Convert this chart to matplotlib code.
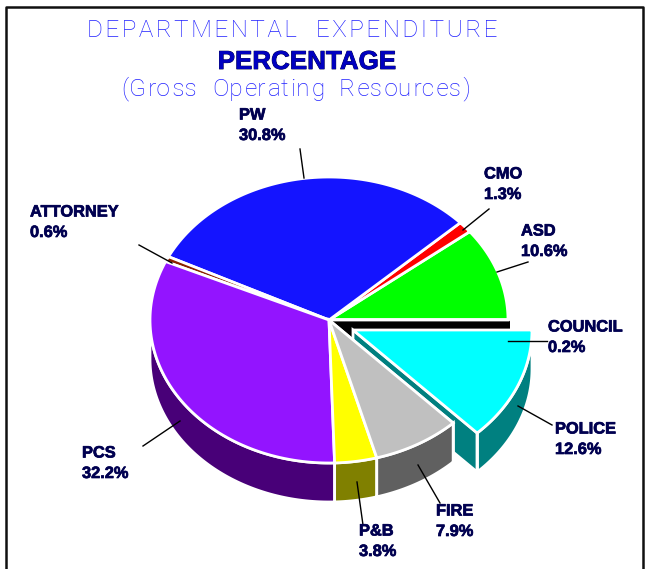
import numpy as np
import matplotlib
matplotlib.use('Agg')
import matplotlib.pyplot as plt
import matplotlib.patheffects as pe

# counter clockwise from the east, starting with the sliver
departments = ['COUNCIL', 'ASD', 'CMO', 'PW', 'ATTORNEY', 'PCS', 'P&B', 'FIRE', 'POLICE']
percents = [0.2, 10.6, 1.3, 30.8, 0.6, 32.2, 3.8, 7.9, 12.6]
top_colors = ['#000000', '#00FF00', '#FF0000', '#1414FF', '#8B2000', '#9314FF', '#FFFF00', '#C0C0C0', '#00FFFF']
side_colors = ['#000000', '#008000', '#800000', '#0A0A80', '#451000', '#480078', '#808000', '#606060', '#008080']

# pixel layout of the tilted pie
cx, cy = 329, 320
rx, ry = 179, 143
depth = 39
offsets = {'COUNCIL': (2, 0), 'POLICE': (24, 10)}

# label text position and leader line (from, to)
label_pos = {
    'PW': (239, 115), 'CMO': (484, 174), 'ASD': (521, 231), 'COUNCIL': (548, 327),
    'POLICE': (555, 429), 'FIRE': (436, 511), 'P&B': (359, 531), 'PCS': (82, 453),
    'ATTORNEY': (30, 212),
}
leaders = {
    'PW': ((300, 149), (304, 178)), 'CMO': ((489, 209), (463, 230)), 'ASD': ((528, 262), (497, 272)),
    'COUNCIL': ((547, 341), (508, 341)), 'POLICE': ((552, 425), (518, 406)), 'FIRE': ((440, 503), (418, 465)),
    'P&B': ((363, 525), (357, 482)), 'PCS': ((143, 446), (180, 421)), 'ATTORNEY': ((139, 245), (172, 263)),
}

plt.rcParams['font.family'] = ['Liberation Sans', 'DejaVu Sans']
fig = plt.figure(figsize=(6.5, 5.69), dpi=100)
ax = fig.add_axes([0, 0, 1, 1])
ax.set_xlim(0, 650)
ax.set_ylim(569, 0)
ax.axis('off')


def arc(a1, a2, ox, oy, drop=0):
    t = np.radians(np.linspace(a1, a2, 80))
    return cx + ox + rx * np.cos(t), cy + oy - ry * np.sin(t) + drop


def draw_top(i, a1, a2, ox, oy):
    x, y = arc(a1, a2, ox, oy)
    x = np.r_[cx + ox, x]
    y = np.r_[cy + oy, y]
    ax.fill(x, y, facecolor=top_colors[i], edgecolor='white', lw=2, joinstyle='miter')


def draw_wall(i, a1, a2, ox, oy):
    # outer rim, only the part turned to the viewer
    a1, a2 = max(a1, 180), min(a2, 360)
    if a1 >= a2:
        return
    x1, y1 = arc(a1, a2, ox, oy)
    x2, y2 = arc(a2, a1, ox, oy, depth)
    ax.fill(np.r_[x1, x2], np.r_[y1, y2], facecolor=side_colors[i], edgecolor='white', lw=2)


def draw_cut(i, a, ox, oy):
    # flat wall along a radius
    x, y = arc(a, a, ox, oy)
    ex, ey = x[0], y[0]
    ax.fill([cx + ox, ex, ex, cx + ox], [cy + oy, ey, ey + depth, cy + oy + depth],
            facecolor=side_colors[i], edgecolor='white', lw=2)


angles = np.cumsum(np.array(percents)) * 3.6 - percents[0] * 3.6
starts = np.r_[angles[0] - percents[0] * 3.6, angles[:-1]]

idx = {d: i for i, d in enumerate(departments)}

# sliver first, its wall shows through the gap behind POLICE
i = idx['COUNCIL']
ox, oy = offsets['COUNCIL']
x, y = arc(0, 0, ox, oy)
ax.fill([cx, x[0], x[0], cx], [cy, y[0], y[0] + depth, cy + depth], color='black', lw=0)

for d in ['ASD', 'CMO', 'PW', 'ATTORNEY']:
    i = idx[d]
    draw_top(i, starts[i], angles[i], 0, 0)
ax.plot([cx, x[0]], [cy - 1, cy - 1], color='white', lw=2)

# exploded slice
i = idx['POLICE']
ox, oy = offsets['POLICE']
draw_cut(i, starts[i], ox, oy)
draw_wall(i, starts[i], 360, ox, oy)
x1, y1 = arc(starts[i], starts[i], ox, oy)
ax.plot([x1[0], x1[0]], [y1[0], y1[0] + depth], color='white', lw=2)
draw_top(i, starts[i], 360, ox, oy)

for d in ['PCS', 'P&B', 'FIRE']:
    i = idx[d]
    draw_wall(i, starts[i], angles[i], 0, 0)
i = idx['FIRE']
draw_cut(i, angles[i], 0, 0)
for d in ['PCS', 'P&B', 'FIRE']:
    i = idx[d]
    draw_wall(i, starts[i], angles[i], 0, 0)
    draw_top(i, starts[i], angles[i], 0, 0)

heavy = [pe.withStroke(linewidth=0.5, foreground='#000050')]
for d, p in zip(departments, percents):
    (x0, y0), (x1, y1) = leaders[d]
    ax.plot([x0, x1], [y0, y1], color='black', lw=1)
    tx, ty = label_pos[d]
    ax.text(tx, ty, d, color='#000050', fontsize=11.8, fontweight='bold', va='center', ha='left', path_effects=heavy)
    ax.text(tx, ty + 20.5, f'{p}%', color='#000050', fontsize=11.8, fontweight='bold', va='center', ha='left',
            path_effects=heavy)

# titles, hair spaces stand in for the wide tracking
sub = '(Gross  Operating  Resources)'
sub = ''.join(c + ('\u200a' if n % 2 else '') for n, c in enumerate(sub))
ax.text(292, 30, '\u200a'.join('DEPARTMENTAL  EXPENDITURE'), color='#2020FF', fontsize=17.5,
        ha='center', va='center', family=['Roboto', 'Liberation Sans'], fontweight='light')
ax.text(307, 62, 'PERCENTAGE', color='#0000C0', fontsize=18.7, fontweight='bold', ha='center', va='center',
        path_effects=[pe.withStroke(linewidth=0.6, foreground='#000040')])
ax.text(296, 89, sub, color='#2020FF', fontsize=17.5, ha='center', va='center',
        family=['Roboto', 'Liberation Sans'], fontweight='light')

# frame runs off the bottom of the image
ax.plot([5.5, 5.5, 642.5, 642.5], [569, 6.5, 6.5, 569], color='#101010', lw=1.8)

fig.savefig('out.png', dpi=100)
